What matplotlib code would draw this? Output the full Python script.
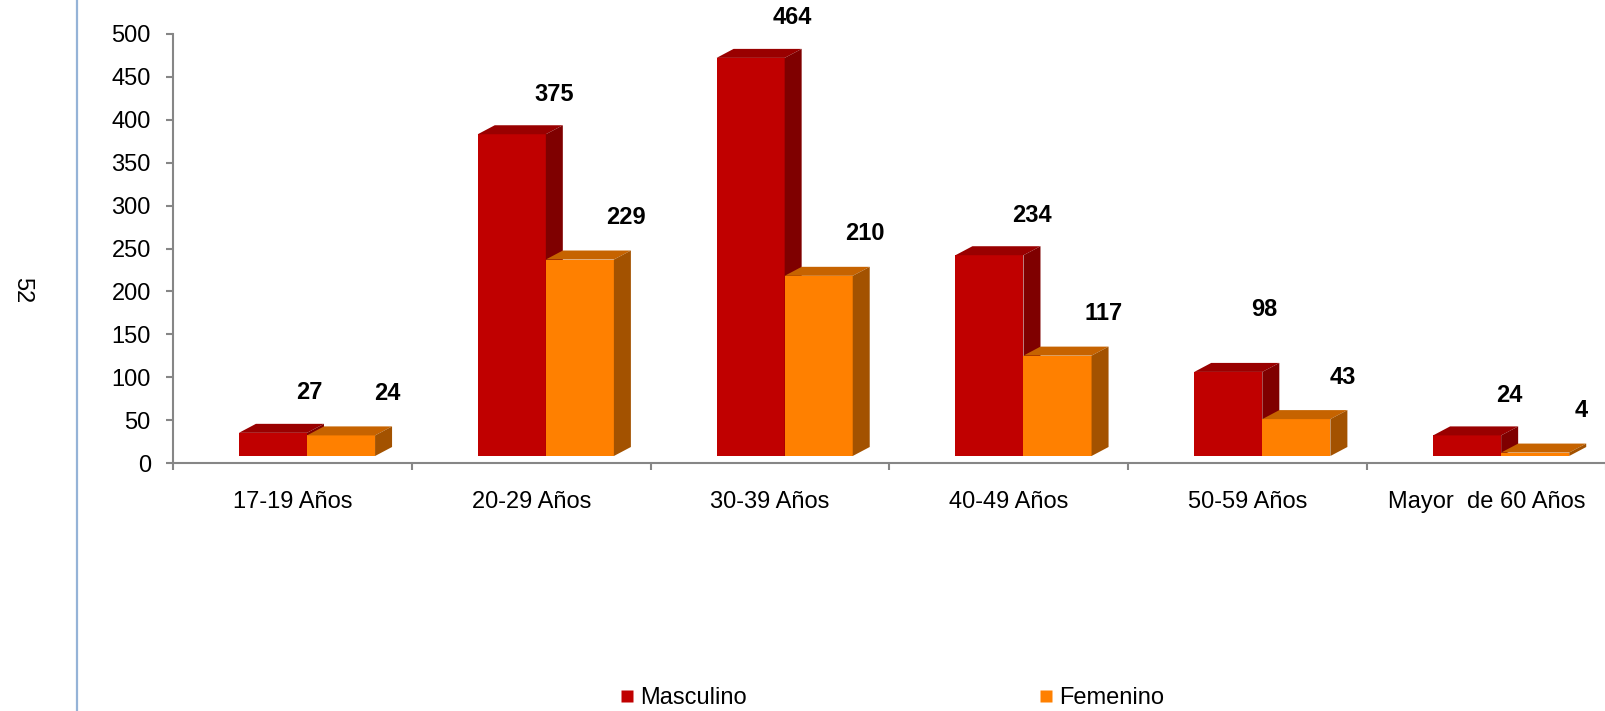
import numpy as np
import matplotlib
matplotlib.use('Agg')
import matplotlib.pyplot as plt
import matplotlib.transforms as mtransforms
from matplotlib.patches import Polygon
from matplotlib.lines import Line2D

plt.rcParams['font.family'] = ['Liberation Sans', 'DejaVu Sans']

# data
categorias = ['17-19 Años', '20-29 Años', '30-39 Años', '40-49 Años',
              '50-59 Años', 'Mayor  de 60 Años']
masculino = [27, 375, 464, 234, 98, 24]
femenino = [24, 229, 210, 117, 43, 4]
series_names = ['Masculino', 'Femenino']

W, H, DPI = 1606, 711, 100
fig = plt.figure(figsize=(W / DPI, H / DPI), dpi=DPI)

# axes box in pixels
x0, x1, y0, y1 = 173, 1606, 463, 34
ax = fig.add_axes([x0 / W, 1 - y0 / H, (x1 - x0) / W, (y0 - y1) / H])
ax.set_xlim(0, 6)
ax.set_ylim(0, 500)

px_x = (x1 - x0) / 6.0      # pixels per category
px_y = (y0 - y1) / 500.0    # pixels per unit

# 3d look: front face lifted a bit, depth to the upper right
lift = mtransforms.ScaledTranslation(0, 7 / DPI, fig.dpi_scale_trans)
tr = ax.transData + lift
dx = 17 / px_x
dy = 9 / px_y

front_cols = ['#C00000', '#FF8000']
top_cols = ['#990000', '#C66300']
side_cols = ['#7F0000', '#A35200']
lbl_off = [(42, 40), (46, 42)]   # px offsets for value labels
nudge = {(0, 4): (-6, 22), (0, 0): (-6, 0)}

x = np.arange(len(categorias))
start = 0.276
bw = 0.285
FS = 17

for s, vals in enumerate([masculino, femenino]):
    for i, v in enumerate(vals):
        left = x[i] + start + s * bw
        right = left + bw
        ax.bar(left, v, bw, align='edge', color=front_cols[s], edgecolor='none',
               transform=tr, clip_on=False, zorder=2)
        top = Polygon([[left, v], [right, v], [right + dx, v + dy], [left + dx, v + dy]],
                      closed=True, facecolor=top_cols[s], edgecolor='none',
                      transform=tr, clip_on=False, zorder=2)
        side = Polygon([[right, 0], [right + dx, dy], [right + dx, v + dy], [right, v]],
                       closed=True, facecolor=side_cols[s], edgecolor='none',
                       transform=tr, clip_on=False, zorder=2)
        ax.add_patch(top)
        ax.add_patch(side)
        ox, oy = lbl_off[s]
        nx, ny = nudge.get((s, i), (0, 0))
        ax.annotate(str(v), xy=(left + bw / 2, v), xycoords=tr,
                    xytext=((ox + nx) * 0.72, (oy + ny) * 0.72),
                    textcoords='offset points', ha='center', va='center',
                    fontsize=FS, fontweight='bold', color='black',
                    annotation_clip=False)

# spines and ticks
for sp in ['top', 'right']:
    ax.spines[sp].set_visible(False)
for sp in ['left', 'bottom']:
    ax.spines[sp].set_color('#868686')
    ax.spines[sp].set_linewidth(1.5)
ax.set_yticks(np.arange(0, 501, 50))
ax.tick_params(axis='y', length=5, width=1.5, color='#868686', labelsize=FS, pad=11)
ax.set_xticks(np.arange(0, 7))
ax.set_xticklabels([])
ax.set_xticks(x + 0.5, minor=True)
ax.set_xticklabels(categorias, minor=True)
ax.tick_params(axis='x', which='major', length=5, width=1.5, color='#868686', direction='out')
ax.tick_params(axis='x', which='minor', length=0, labelsize=FS, pad=20)
ax.set_facecolor('none')

# legend
handles = [Line2D([], [], marker='s', linestyle='none', markersize=8.6,
                  markerfacecolor=c, markeredgecolor='none') for c in front_cols]
fig.legend(handles, series_names, loc='center', bbox_to_anchor=(892 / W, 1 - 698 / H),
           ncol=2, frameon=False, fontsize=FS, handlelength=0.6,
           handletextpad=0.25, columnspacing=12.4, borderaxespad=0)

# page margin line and page number
fig.add_artist(Line2D([77 / W, 77 / W], [0, 1], color='#95B3D7', linewidth=1.6,
                      transform=fig.transFigure))
fig.text(22 / W, 1 - 290 / H, '52', rotation=-90, fontsize=FS, ha='center', va='center')

fig.savefig('out.png', dpi=DPI)
